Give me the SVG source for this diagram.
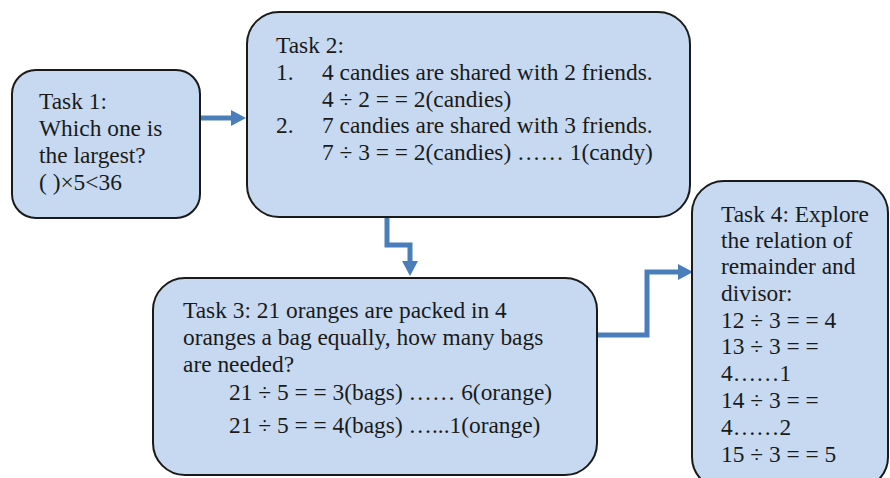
<svg xmlns="http://www.w3.org/2000/svg" width="890" height="478" viewBox="0 0 890 478">
<defs>
<marker id="ah" viewBox="0 0 15 16" refX="0" refY="8" markerWidth="15" markerHeight="16" markerUnits="userSpaceOnUse" orient="auto">
<path d="M0,0 L15,8 L0,16 z" fill="#4a7ebb"/>
</marker>
</defs>
<style>
.box{fill:#c6d9f0;stroke:#1a1a1a;stroke-width:2}
.t{font-family:'Liberation Serif','DejaVu Serif',serif;font-size:23.4px;fill:#1a1a1a}
.c{fill:none;stroke:#4a7ebb;stroke-width:5;marker-end:url(#ah)}
</style>
<rect width="890" height="478" fill="#ffffff"/>
<g id="connectors">
<path class="c" d="M200,118 H231"/>
<path class="c" d="M387,217 V245 H410 V261"/>
<path class="c" d="M597,335 H647 V272 H678"/>
</g>
<g id="task1">
<rect class="box" x="12" y="70" width="188" height="148" rx="24"/>
<text class="t" x="39" y="109">Task 1:</text>
<text class="t" x="39" y="136">Which one is</text>
<text class="t" x="39" y="163">the largest?</text>
<text class="t" x="39" y="190">( )×5&lt;36</text>
</g>
<g id="task2">
<rect class="box" x="247" y="12" width="443" height="205" rx="32"/>
<text class="t" x="276" y="53">Task 2:</text>
<text class="t" x="276" y="80">1.</text>
<text class="t" x="322" y="80">4 candies are shared with 2 friends.</text>
<text class="t" x="322" y="107">4 ÷ 2 = = 2(candies)</text>
<text class="t" x="276" y="133">2.</text>
<text class="t" x="322" y="133">7 candies are shared with 3 friends.</text>
<text class="t" x="322" y="160">7 ÷ 3 = = 2(candies) …… 1(candy)</text>
</g>
<g id="task3">
<rect class="box" x="153" y="278" width="444" height="197" rx="32"/>
<text class="t" x="183" y="318">Task 3: 21 oranges are packed in 4</text>
<text class="t" x="183" y="345">oranges a bag equally, how many bags</text>
<text class="t" x="183" y="372">are needed?</text>
<text class="t" x="229" y="400">21 ÷ 5 = = 3(bags) …… 6(orange)</text>
<text class="t" x="229" y="433">21 ÷ 5 = = 4(bags) …...1(orange)</text>
</g>
<g id="task4">
<rect class="box" x="692" y="181" width="196" height="308" rx="32"/>
<text class="t" x="721" y="222">Task 4: Explore</text>
<text class="t" x="721" y="248">the relation of</text>
<text class="t" x="721" y="274">remainder and</text>
<text class="t" x="721" y="301">divisor:</text>
<text class="t" x="721" y="328">12 ÷ 3 = = 4</text>
<text class="t" x="721" y="354">13 ÷ 3 = =</text>
<text class="t" x="721" y="381">4……1</text>
<text class="t" x="721" y="408">14 ÷ 3 = =</text>
<text class="t" x="721" y="435">4……2</text>
<text class="t" x="721" y="462">15 ÷ 3 = = 5</text>
</g>
</svg>
